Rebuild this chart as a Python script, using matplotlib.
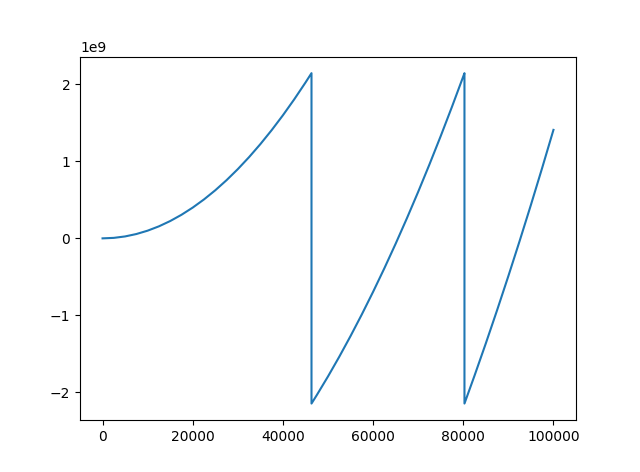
import matplotlib
matplotlib.use("Agg")
import matplotlib.pyplot as plt
import numpy as np

x_vals = [0, 2500, 5000, 7500, 10000, 12500, 15000, 17500, 20000, 22500, 25000,
          27500, 30000, 32500, 35000, 37500, 40000, 42500, 45000, 46340,
          46341, 47500, 50000, 52500, 55000, 57500, 60000, 62500, 65000, 67500,
          70000, 72500, 75000, 77500, 80000, 80264,
          80265, 82500, 85000, 87500, 90000, 92500, 95000, 97500, 100000]
y_vals_e9 = [0.0, 0.00625, 0.025, 0.05625, 0.1, 0.15625, 0.225, 0.30625, 0.4, 0.50625, 0.625,
             0.75625, 0.9, 1.05625, 1.225, 1.40625, 1.6, 1.80625, 2.025, 2.1474,
             -2.1475, -2.03872, -1.79497, -1.53872, -1.26997, -0.98872, -0.69497, -0.38872, -0.06997, 0.26128,
             0.60503, 0.96128, 1.33003, 1.71128, 2.10503, 2.1474,
             -2.1475, -1.78368, -1.36493, -0.93368, -0.48993, -0.03368, 0.43507, 0.91632, 1.41007]

fig, ax = plt.subplots(figsize=(6.4, 4.72), dpi=100)
ax.plot(x_vals, np.array(y_vals_e9) * 1e9)
fig.savefig("out.png")
